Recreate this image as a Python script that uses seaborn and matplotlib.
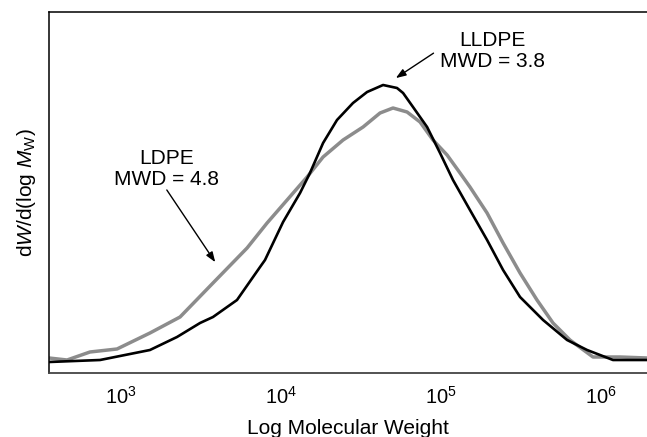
import numpy as np
import pandas as pd
import matplotlib
matplotlib.use("Agg")
import matplotlib.pyplot as plt
import seaborn as sns

# ---- data (log10 molecular weight, relative dW/dlogM) ----
lldpe_logm = [2.550, 2.869, 3.181, 3.350, 3.494, 3.575, 3.725, 3.869, 3.900, 4.013,
              4.119, 4.181, 4.263, 4.350, 4.450, 4.538, 4.638, 4.725, 4.763, 4.825,
              4.913, 4.994, 5.075, 5.181, 5.288, 5.388, 5.494, 5.638, 5.788, 5.913,
              6.075, 6.288]
lldpe_w = [11, 13, 23, 36, 50, 56, 73, 106, 113, 151,
           180, 200, 230, 253, 270, 281, 288, 285, 280, 266,
           246, 220, 193, 163, 133, 103, 76, 53, 33, 23,
           13, 13]

ldpe_logm = [2.550, 2.663, 2.806, 2.975, 3.181, 3.369, 3.575, 3.788, 3.913, 4.038,
             4.163, 4.263, 4.388, 4.513, 4.619, 4.700, 4.788, 4.869, 4.950, 5.038,
             5.119, 5.181, 5.288, 5.388, 5.494, 5.600, 5.700, 5.806, 5.950, 6.119,
             6.288]
ldpe_w = [15, 13, 21, 24, 40, 56, 90, 125, 150, 173,
          196, 216, 233, 246, 260, 265, 261, 251, 233, 218,
          200, 186, 160, 130, 100, 73, 50, 33, 16, 16,
          15]

series_names = ["LDPE", "LLDPE"]
series_colors = ["#8c8c8c", "#000000"]
tick_values = [1e3, 1e4, 1e5, 1e6]
tick_labels = ["$10^3$", "$10^4$", "$10^5$", "$10^6$"]

df = pd.concat([
    pd.DataFrame({"M": 10 ** np.array(ldpe_logm), "w": ldpe_w, "polymer": "LDPE"}),
    pd.DataFrame({"M": 10 ** np.array(lldpe_logm), "w": lldpe_w, "polymer": "LLDPE"}),
])

sns.set_style("white")
plt.rcParams["font.family"] = ["Liberation Sans", "DejaVu Sans"]
plt.rcParams["text.color"] = "black"
plt.rcParams["axes.labelcolor"] = "black"
plt.rcParams["xtick.color"] = "black"
plt.rcParams["mathtext.fontset"] = "custom"
plt.rcParams["mathtext.rm"] = "Liberation Sans"
plt.rcParams["mathtext.it"] = "Liberation Sans:italic"
plt.rcParams["mathtext.bf"] = "Liberation Sans:bold"

fig = plt.figure(figsize=(6.47, 4.37), dpi=100)
ax = fig.add_axes([49 / 647, (437 - 373) / 437, 598 / 647, (373 - 12) / 437])

for name, col, lw in zip(series_names, series_colors, [2.5, 1.9]):
    sns.lineplot(data=df[df["polymer"] == name], x="M", y="w", color=col,
                 linewidth=lw, estimator=None, sort=False, ax=ax, legend=False)

ax.set_xscale("log")
ax.set_xlim(10 ** 2.55, 10 ** 6.2875)
ax.set_ylim(0, 361)
ax.set_xticks(tick_values)
ax.set_xticklabels(tick_labels)
ax.xaxis.set_minor_locator(matplotlib.ticker.NullLocator())
ax.set_yticks([])
ax.tick_params(axis="x", length=0, pad=9, labelsize=14.5, labelcolor="black")

for s in ["left", "top"]:
    ax.spines[s].set_visible(True)
    ax.spines[s].set_color("black")
    ax.spines[s].set_linewidth(1.1)
ax.spines["bottom"].set_color("#444444")
ax.spines["bottom"].set_linewidth(1.3)
ax.spines["right"].set_visible(False)

ax.set_xlabel("Log Molecular Weight", fontsize=15, labelpad=8, color="black")
ax.set_ylabel("d$W$/d(log $M_\\mathrm{W}$)", fontsize=15, color="black")
ax.yaxis.set_label_coords(-0.018, 0.5)

# annotations
ax.text(0.742, 0.892, "LLDPE\nMWD = 3.8", transform=ax.transAxes, ha="center",
        va="center", fontsize=15, linespacing=1.1, color="black")
ax.annotate("", xy=(0.580, 0.817), xytext=(0.643, 0.886), xycoords="axes fraction",
            textcoords="axes fraction",
            arrowprops=dict(arrowstyle="-|>,head_length=0.6,head_width=0.22",
                            color="black", lw=1.0, shrinkA=0, shrinkB=0))
ax.text(0.196, 0.565, "LDPE\nMWD = 4.8", transform=ax.transAxes, ha="center",
        va="center", fontsize=15, linespacing=1.1, color="black")
ax.annotate("", xy=(0.278, 0.307), xytext=(0.197, 0.507), xycoords="axes fraction",
            textcoords="axes fraction",
            arrowprops=dict(arrowstyle="-|>,head_length=0.6,head_width=0.22",
                            color="black", lw=1.0, shrinkA=0, shrinkB=0))

fig.savefig("out.png", dpi=100)
